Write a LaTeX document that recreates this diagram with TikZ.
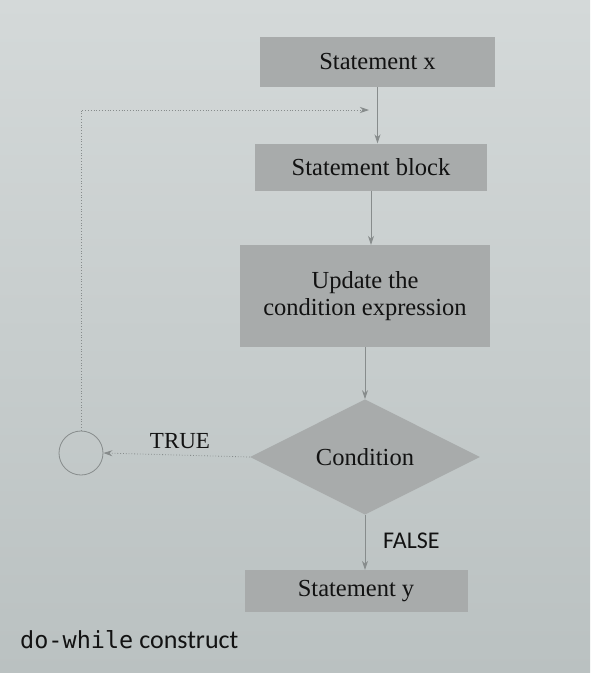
\documentclass[tikz,border=0pt]{standalone}
\usepackage{fontspec}
\setmainfont{Liberation Serif}
\newfontfamily\capfont{Carlito}
\newfontfamily\monofont{DejaVu Sans Mono}
\usetikzlibrary{shapes.geometric,arrows.meta}
\definecolor{paper}{RGB}{200,206,206}
\definecolor{paperlight}{RGB}{212,217,217}
\definecolor{paperdark}{RGB}{186,193,193}
\definecolor{boxgray}{RGB}{168,171,171}
\definecolor{linegray}{RGB}{135,140,140}
\definecolor{ink}{RGB}{18,18,18}
\begin{document}
\begin{tikzpicture}[x=1pt,y=-1pt,
  block/.style={rectangle,fill=boxgray,draw=none,text=ink,font=\fontsize{24.5}{27}\selectfont,align=center,inner sep=0pt},
  decision/.style={diamond,fill=boxgray,draw=none,text=ink,font=\fontsize{24.5}{27}\selectfont,inner sep=0pt,minimum width=230pt,minimum height=113pt},
  joint/.style={circle,draw=linegray,line width=0.8pt,minimum size=44pt,inner sep=0pt},
  flow/.style={draw=linegray,line width=0.8pt,-{Stealth[length=9pt,width=6pt]}},
  back/.style={draw=linegray,line width=0.8pt,dotted,-{Stealth[length=9pt,width=6pt]}},
  lbl/.style={text=ink,inner sep=0pt}]
  % paper
  \shade[top color=paperlight,bottom color=paperdark] (0,0) rectangle (590,673);
  \useasboundingbox (0,0) rectangle (590,673);

  % flowchart blocks
  \node[block,minimum width=235pt,minimum height=50pt] (sx) at (377.5,62) {Statement x};
  \node[block,minimum width=232pt,minimum height=47pt] (sb) at (371,167) {Statement block};
  \node[block,minimum width=250pt,minimum height=102pt] (up) at (365,296) {Update the\\condition expression};
  \node[decision] (cond) at (365,457) {Condition};
  \node[block,minimum width=223pt,minimum height=42pt] (sy) at (356,591) {Statement y};
  \node[joint] (join) at (81,453) {};
  \coordinate (entry) at (369,110);

  % connectors
  \draw[flow] (sx.south) -- (sx.south |- sb.north);
  \draw[flow] (sb.south) -- (sb.south |- up.north);
  \draw[flow] (up.south) -- (cond.north);
  \draw[flow] (cond.south) -- (cond.south |- sy.north);
  \draw[back] (cond.west) -- (join.east);
  \draw[back] (join.north) |- (entry);

  % labels
  \node[lbl,font=\fontsize{23}{25}\selectfont] (true) at (180,441) {TRUE};
  \node[lbl,font=\capfont\fontsize{24}{26}\selectfont,anchor=west] (false) at (383,541) {FALSE};
  \node[lbl,anchor=west] (caption) at (20,640) {\fontsize{23.5}{26}\selectfont\monofont do-while\capfont\fontsize{26}{26}\selectfont{} construct};
\end{tikzpicture}
\end{document}
